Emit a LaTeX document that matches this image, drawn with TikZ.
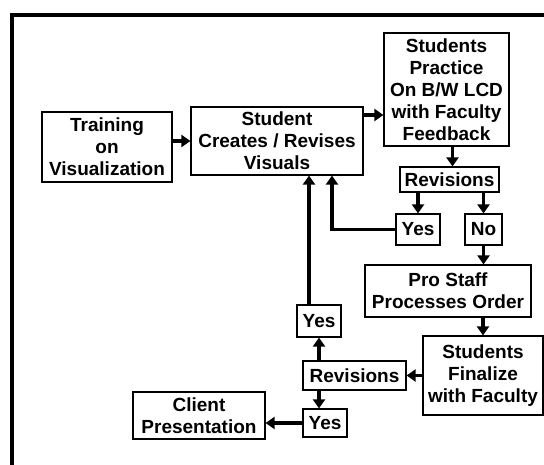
\documentclass[tikz,border=0pt]{standalone}
\usepackage{fontspec}
\setmainfont{Liberation Sans}
\usetikzlibrary{arrows.meta}

\tikzset{
  box/.style={draw, line width=1.2pt, align=center, inner sep=0pt,
    font=\fontsize{19}{22}\selectfont\bfseries},
  flow/.style={line width=3.5pt, -{Triangle[length=9pt,width=12pt]}},
}

\begin{document}
\begin{tikzpicture}[x=1pt, y=-1pt]
    \useasboundingbox (0,0) rectangle (544,465);
    % thick frame, only left and top edges show
    \draw[line width=4pt] (548,15) -- (12,15) -- (12,469);

    % top row
    \node[box, minimum width=130pt, minimum height=70pt]
        (train) at (107,147) {Training\\on\\Visualization};
    \node[box, minimum width=172pt, minimum height=68pt]
        (create) at (277,141) {Student\\Creates / Revises\\Visuals};
    \node[box, minimum width=125pt, minimum height=113pt]
        (practice) at (446.5,89.5) {Students\\Practice\\On B/W LCD\\with Faculty\\Feedback};
    \node[box, minimum width=99pt, minimum height=25pt]
        (revA) at (449.5,179.5) {Revisions};
    \node[box, minimum width=44pt, minimum height=31pt]
        (yesA) at (418,229.5) {Yes};
    \node[box, minimum width=37pt, minimum height=31pt]
        (no) at (483.5,229.5) {No};

    % lower part
    \node[box, minimum width=166pt, minimum height=52pt]
        (staff) at (448,291) {Pro Staff\\Processes Order};
    \node[box, minimum width=120pt, minimum height=79pt]
        (final) at (483,375.5) {Students\\Finalize\\with Faculty};
    \node[box, minimum width=103pt, minimum height=29pt]
        (revB) at (354.5,375.5) {Revisions};
    \node[box, minimum width=44pt, minimum height=32pt]
        (yesB) at (319,321) {Yes};
    \node[box, minimum width=44pt, minimum height=28pt]
        (yesC) at (325,423) {Yes};
    \node[box, minimum width=132pt, minimum height=47pt]
        (client) at (199,415.5) {Client\\Presentation};

    % connectors
    \draw[flow] (create.west -| train.east) -- (create.west);
    \draw[flow] ([yshift=26pt]create.east) -- ([yshift=26pt]create.east -| practice.west);
    \draw[flow] ([xshift=6pt]practice.south) -- ([xshift=6pt]practice.south |- revA.north);
    \draw[flow] (yesA |- revA.south) -- (yesA.north);
    \draw[flow] (no |- revA.south) -- (no.north);
    \draw[flow] (yesA.west) -| ([xshift=55pt]create.south);
    \draw[flow] (no.south) -- (no.south |- staff.north);
    \draw[flow] (final.north |- staff.south) -- (final.north);
    \draw[flow] (final.west) -- (revB.east);
    \draw[flow] (yesB |- revB.north) -- (yesB.south);
    \draw[flow] (yesB |- revB.south) -- (yesB |- yesC.north);
    \draw[flow] ([xshift=-10pt]yesB.north) -- ([xshift=-10pt]yesB.north |- create.south);
    \draw[flow] (yesC.west) -- (yesC.west -| client.east);
\end{tikzpicture}
\end{document}
